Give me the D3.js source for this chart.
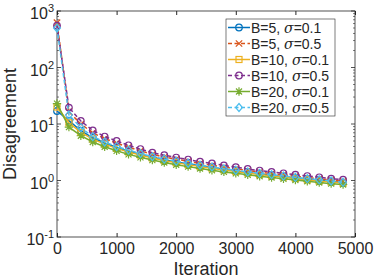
<!DOCTYPE html>
<html>
<head>
<meta charset="utf-8">
<script src="https://cdn.jsdelivr.net/npm/d3@7"></script>
<style>
    body { margin: 0; background: #fff; }
    text { font-family: "Liberation Sans", Arial, Helvetica, sans-serif; fill: #262626; }
</style>
</head>
<body>
<div id="chart"></div>
<script>
// iterations at which the runs were sampled
const iterations = [0, 200, 400, 600, 800, 1000, 1200, 1400, 1600, 1800, 2000, 2200, 2400,
    2600, 2800, 3000, 3200, 3400, 3600, 3800, 4000, 4200, 4400, 4600, 4800];

// disagreement values
const b5s01 = [17, 11.5, 7.6, 5.7, 4.6, 3.85, 3.3, 2.9, 2.58, 2.33, 2.13, 1.96, 1.82,
    1.69, 1.58, 1.48, 1.39, 1.31, 1.24, 1.17, 1.11, 1.06, 1.01, 0.96, 0.92];
const b5s05 = [620, 16.5, 10.0, 7.0, 5.5, 4.6, 3.9, 3.35, 2.9, 2.6, 2.38, 2.18, 2.0,
    1.86, 1.73, 1.61, 1.5, 1.41, 1.33, 1.26, 1.19, 1.13, 1.07, 1.02, 0.97];
const b10s01 = [20, 10.5, 7.1, 5.4, 4.4, 3.7, 3.2, 2.82, 2.5, 2.26, 2.07, 1.91, 1.77,
    1.65, 1.54, 1.44, 1.36, 1.28, 1.21, 1.15, 1.09, 1.03, 0.98, 0.94, 0.9];
const b10s05 = [550, 19.5, 11.3, 7.7, 6.0, 5.0, 4.2, 3.6, 3.1, 2.8, 2.55, 2.35, 2.15,
    2.0, 1.85, 1.72, 1.6, 1.5, 1.42, 1.34, 1.27, 1.2, 1.14, 1.08, 1.03];
const b20s01 = [23, 8.8, 6.2, 4.8, 3.95, 3.35, 2.9, 2.57, 2.3, 2.08, 1.9, 1.76, 1.63,
    1.52, 1.42, 1.34, 1.26, 1.19, 1.13, 1.07, 1.02, 0.97, 0.92, 0.88, 0.85];
const b20s05 = [500, 14.5, 8.6, 6.0, 4.8, 4.0, 3.45, 3.0, 2.65, 2.4, 2.2, 2.02, 1.87,
    1.74, 1.62, 1.52, 1.42, 1.34, 1.27, 1.2, 1.14, 1.08, 1.03, 0.98, 0.93];

const seriesNames = [['B=5, ', '0.1'], ['B=5, ', '0.5'], ['B=10, ', '0.1'],
    ['B=10, ', '0.5'], ['B=20, ', '0.1'], ['B=20, ', '0.5']];
const seriesValues = [b5s01, b5s05, b10s01, b10s05, b20s01, b20s05];
const colors = ['#0072BD', '#D95319', '#EDB120', '#7E2F8E', '#77AC30', '#4DBEEE'];
const markers = ['circle', 'cross', 'square', 'circle', 'star', 'diamond'];
const dashed = [false, true, false, true, false, true];

const xTicks = [0, 1000, 2000, 3000, 4000, 5000];
const yExponents = [-1, 0, 1, 2, 3];

const width = 374;
const height = 280;
const margin = { top: 11, right: 19, bottom: 43, left: 57 };
const plotW = width - margin.left - margin.right;
const plotH = height - margin.top - margin.bottom;

const svg = d3.select('#chart')
    .append('svg')
    .attr('width', width)
    .attr('height', height);

const g = svg.append('g')
    .attr('transform', `translate(${margin.left},${margin.top})`);

const xScale = d3.scaleLinear().domain([0, 5000]).range([0, plotW]);
const yScale = d3.scaleLog().domain([0.1, 1000]).range([plotH, 0]);

// Axes (ticks point inward, like MATLAB)
const xAxis = d3.axisBottom(xScale)
    .tickValues(xTicks)
    .tickSizeInner(-4)
    .tickSizeOuter(0)
    .tickPadding(6)
    .tickFormat(d3.format('d'));

g.append('g')
    .attr('transform', `translate(0,${plotH})`)
    .call(xAxis)
    .call((sel) => {
        sel.select('.domain').remove();
        sel.selectAll('text').style('font-size', '16px').attr('fill', '#262626');
        sel.selectAll('line').attr('stroke', '#262626');
    });

// top ticks
g.append('g')
    .call(d3.axisTop(xScale).tickValues(xTicks).tickSizeInner(-4).tickSizeOuter(0).tickFormat(''))
    .call((sel) => {
        sel.select('.domain').remove();
        sel.selectAll('line').attr('stroke', '#262626');
    });

// log ticks, left and right
const minorTicks = [];
yExponents.forEach((e) => {
    if (e === 3) return;
    for (let k = 2; k <= 9; k ++) {
        minorTicks.push(k * Math.pow(10, e));
    }
});
const majorTicks = yExponents.map((e) => Math.pow(10, e));

[0, plotW].forEach((x0) => {
    const dir = x0 === 0 ? 1 : -1;
    g.append('g').selectAll('line.minor')
        .data(minorTicks)
        .join('line')
        .attr('x1', x0)
        .attr('x2', x0 + dir * 2)
        .attr('y1', (d) => yScale(d))
        .attr('y2', (d) => yScale(d))
        .attr('stroke', '#262626')
        .attr('stroke-width', 0.6);
    g.append('g').selectAll('line.major')
        .data(majorTicks)
        .join('line')
        .attr('x1', x0)
        .attr('x2', x0 + dir * 4)
        .attr('y1', (d) => yScale(d))
        .attr('y2', (d) => yScale(d))
        .attr('stroke', '#262626')
        .attr('stroke-width', 0.8);
});

// y tick labels: 10 with superscript exponent
const yLabels = g.append('g').selectAll('text')
    .data(yExponents)
    .join('text')
    .attr('x', -3)
    .attr('y', (d) => yScale(Math.pow(10, d)) + 8)
    .attr('text-anchor', 'end')
    .style('font-size', '16px');
yLabels.append('tspan').text('10');
yLabels.append('tspan')
    .attr('dy', -7)
    .style('font-size', '11px')
    .text((d) => (d < 0 ? '-' : '') + Math.abs(d));

// Box
g.append('rect')
    .attr('width', plotW)
    .attr('height', plotH)
    .attr('fill', 'none')
    .attr('stroke', '#262626')
    .attr('stroke-width', 0.8);

// marker drawing
function drawMarker(sel, type, color) {
    if (type === 'circle') {
        sel.append('circle').attr('r', 3.3);
    } else if (type === 'square') {
        sel.append('rect').attr('x', -3).attr('y', -3).attr('width', 6).attr('height', 6);
    } else if (type === 'diamond') {
        sel.append('path').attr('d', 'M0,-4L3.4,0L0,4L-3.4,0Z');
    } else if (type === 'cross') {
        sel.append('path').attr('d', 'M-3.2,-3.2L3.2,3.2M-3.2,3.2L3.2,-3.2');
    } else if (type === 'star') {
        sel.append('path').attr('d', 'M-3,-3L3,3M-3,3L3,-3M0,-4.2L0,4.2M-4.2,0L4.2,0');
    }
    sel.selectAll('*')
        .attr('fill', 'none')
        .attr('stroke', color)
        .attr('stroke-width', 1.2);
}

const lineFunction = d3.line()
    .x((d) => xScale(d[0]))
    .y((d) => yScale(d[1]));

// Graph lines
seriesValues.forEach((values, i) => {
    const pts = iterations.map((it, j) => [it, values[j]]);
    g.append('path')
        .attr('d', lineFunction(pts))
        .attr('fill', 'none')
        .attr('stroke', colors[i])
        .attr('stroke-width', 1.5)
        .attr('stroke-dasharray', dashed[i] ? '4,2.5' : null);

    g.append('g').selectAll('g')
        .data(pts)
        .join('g')
        .attr('transform', (d) => `translate(${xScale(d[0])},${yScale(d[1])})`)
        .each(function () {
            drawMarker(d3.select(this), markers[i], colors[i]);
        });
});

// Legend
const legend = svg.append('g').attr('transform', 'translate(226,19)');
legend.append('rect')
    .attr('width', 109)
    .attr('height', 97)
    .attr('fill', '#fff')
    .attr('stroke', '#262626')
    .attr('stroke-width', 0.6);

seriesNames.forEach((name, i) => {
    const row = legend.append('g').attr('transform', `translate(0,${8.5 + i * 16})`);
    row.append('line')
        .attr('x1', 2)
        .attr('x2', 24)
        .attr('stroke', colors[i])
        .attr('stroke-width', 1.5)
        .attr('stroke-dasharray', dashed[i] ? '4,2.5' : null);
    const m = row.append('g').attr('transform', 'translate(13,0)');
    drawMarker(m, markers[i], colors[i]);
    const t = row.append('text')
        .attr('x', 25)
        .attr('y', 5)
        .style('font-size', '14px');
    t.append('tspan').text(name[0]);
    t.append('tspan').style('font-style', 'italic').style('font-family', '"DejaVu Serif", serif').text('σ');
    t.append('tspan').text('=' + name[1]);
});

// Axis titles
svg.append('text')
    .attr('x', margin.left + plotW / 2)
    .attr('y', 275)
    .attr('text-anchor', 'middle')
    .style('font-size', '18px')
    .text('Iteration');

svg.append('text')
    .attr('transform', `translate(16,${margin.top + plotH / 2}) rotate(-90)`)
    .attr('text-anchor', 'middle')
    .style('font-size', '18px')
    .text('Disagreement');
</script>
</body>
</html>
